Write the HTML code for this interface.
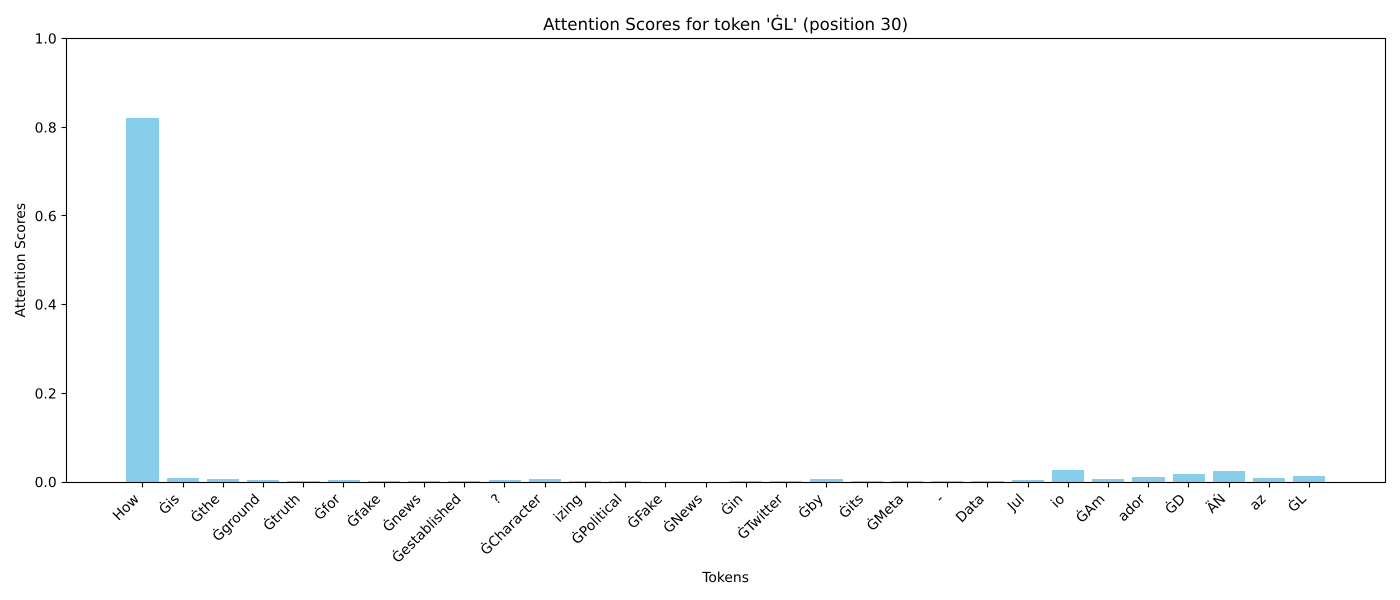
<!DOCTYPE html>
<html lang="en">
<head>
<meta charset="utf-8">
<title>Attention Scores</title>
<style>
html,body{margin:0;padding:0;background:#fff;width:1400px;height:600px;overflow:hidden}
svg{display:block}
text{font-family:"DejaVu Sans","Liberation Sans",sans-serif;fill:#000;text-rendering:geometricPrecision}
</style>
</head>
<body>
<svg id="chart" xmlns="http://www.w3.org/2000/svg" width="1400" height="600" viewBox="0 0 1400 600">
  <rect x="0" y="0" width="1400" height="600" fill="#fff"/>
  <text x="725.6" y="30" font-size="16.67" text-anchor="middle">Attention Scores for token 'ĠL' (position 30)</text>
  <text x="725.6" y="582" font-size="13.89" text-anchor="middle">Tokens</text>
  <text x="0" y="0" font-size="13.89" text-anchor="middle" transform="translate(25.2 260.2) rotate(-90)">Attention Scores</text>
  <g id="bars"></g>
  <g id="x-axis"></g>
  <g id="y-axis"></g>
  <rect x="66.5" y="38.5" width="1319" height="444" fill="none" stroke="#000" stroke-width="1.1"/>
</svg>
<script>
const categories = ["How","Ġis","Ġthe","Ġground","Ġtruth","Ġfor","Ġfake","Ġnews","Ġestablished","?","ĠCharacter","izing","ĠPolitical","ĠFake","ĠNews","Ġin","ĠTwitter","Ġby","Ġits","ĠMeta","-","Data","Jul","io","ĠAm","ador","ĠD","ÄŃ","az","ĠL"];
const scores = [0.82,0.009,0.0068,0.0045,0.002,0.0045,0.002,0.002,0.002,0.0045,0.0065,0.002,0.002,0.001,0.0005,0.002,0.002,0.0065,0.002,0.002,0.002,0.002,0.0045,0.027,0.0065,0.011,0.018,0.025,0.009,0.0135];
const yTicks = [0,0.2,0.4,0.6,0.8,1];
const yTickLabels = ["0.0","0.2","0.4","0.6","0.8","1.0"];

const NS = "http://www.w3.org/2000/svg";
const plotLeft = 66.45, plotWidth = 1319, plotBottom = 482, plotHeight = 443.5;
const barWidth = 0.8;
const span = categories.length - 1 + barWidth;
const xMin = -barWidth / 2 - span * 0.05;
const xMax = categories.length - 1 + barWidth / 2 + span * 0.05;
function xScale(v) { return plotLeft + (v - xMin) / (xMax - xMin) * plotWidth; }
function yScale(v) { return plotBottom - v * plotHeight; }
function make(tag, attrs) {
  const el = document.createElementNS(NS, tag);
  for (const k in attrs) el.setAttribute(k, attrs[k]);
  return el;
}
const barsGroup = document.getElementById("bars");
const xGroup = document.getElementById("x-axis");
const yGroup = document.getElementById("y-axis");

scores.forEach(function (v, i) {
  const x0 = Math.round(xScale(i - barWidth / 2));
  const x1 = Math.round(xScale(i + barWidth / 2));
  const top = Math.round(yScale(v));
  const bar = make("rect", { x: x0, y: top, width: x1 - x0, height: plotBottom - top, fill: "#87CEEB" });
  
  
  barsGroup.appendChild(bar);
});

categories.forEach(function (c, i) {
  const x = xScale(i);
  const tx = Math.floor(x + 0.3) + 0.5;
  const tick = make("line", { x1: tx, x2: tx, y1: plotBottom, y2: plotBottom + 5.4, stroke: "#000", "stroke-width": 1.1 });
  
  
  xGroup.appendChild(tick);
  const label = make("text", { "font-size": 13.89, "text-anchor": "end", transform: "translate(" + (x - 2.6) + " 499.8) rotate(-45)" });
  
  
  label.textContent = c;
  xGroup.appendChild(label);
});

yTicks.forEach(function (v, i) {
  const y = Math.floor(yScale(v)) + 0.5;
  const tick = make("line", { x1: 61.6, x2: 66.5, y1: y, y2: y, stroke: "#000", "stroke-width": 1.1 });
  
  
  yGroup.appendChild(tick);
  const label = make("text", { x: 56.7, y: yScale(v) + 5.1, "font-size": 13.89, "text-anchor": "end" });
  
  
  label.textContent = yTickLabels[i];
  yGroup.appendChild(label);
});
</script>
</body>
</html>
